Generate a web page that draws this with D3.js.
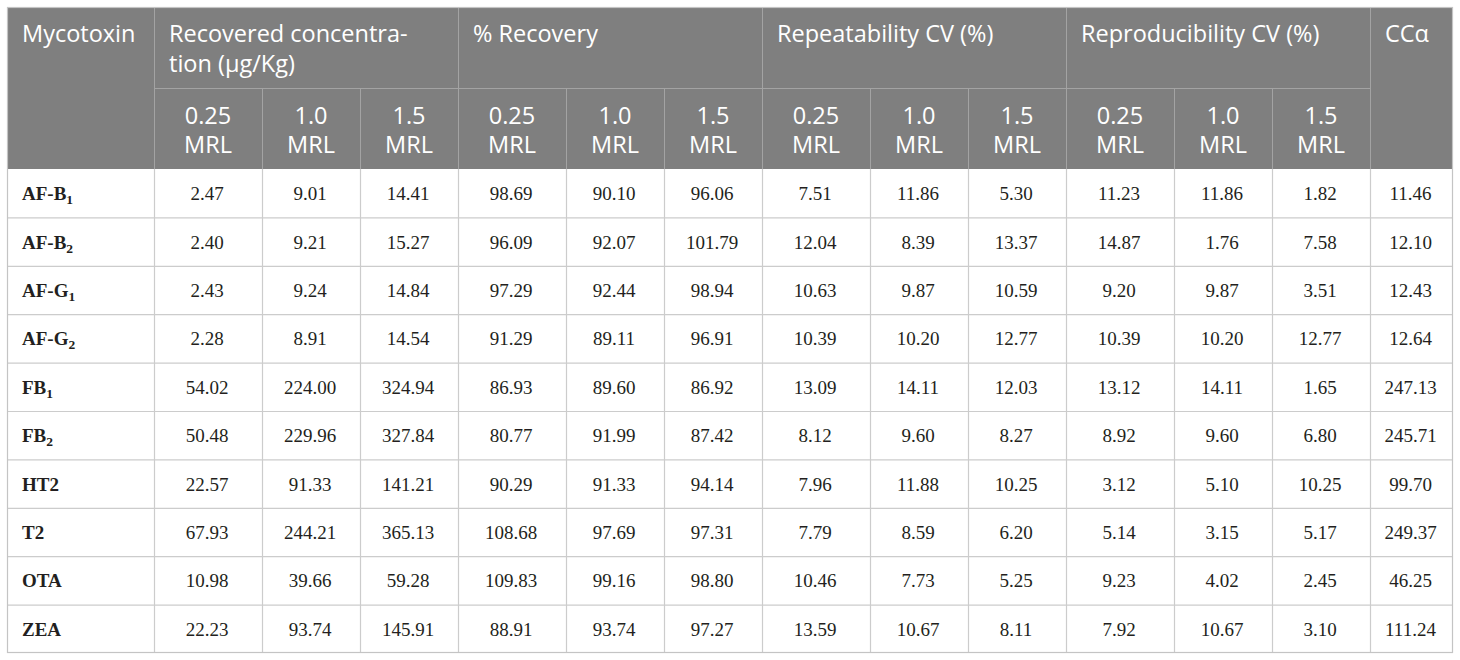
<!DOCTYPE html>
<html><head><meta charset="utf-8">
<script src="https://cdn.jsdelivr.net/npm/d3@7"></script>
<style>body{margin:0;background:#fff}svg{display:block}</style>
</head><body>
<svg id="chart" width="1460" height="660"></svg>
<script>
// ---- data ----
const toxinBase = ["AF-B","AF-B","AF-G","AF-G","FB","FB","HT2","T2","OTA","ZEA"];
const toxinSub  = ["1","2","1","2","1","2","","","",""];
const groupTitles = [["Recovered concentra-","tion (μg/Kg)"],["% Recovery"],["Repeatability CV (%)"],["Reproducibility CV (%)"]];
const levelLabels = [["0.25","MRL"],["1.0","MRL"],["1.5","MRL"]];
const firstHeader = "Mycotoxin";
const lastHeader = "CCα";
const recConc025 = [2.47,2.40,2.43,2.28,54.02,50.48,22.57,67.93,10.98,22.23];
const recConc10  = [9.01,9.21,9.24,8.91,224.00,229.96,91.33,244.21,39.66,93.74];
const recConc15  = [14.41,15.27,14.84,14.54,324.94,327.84,141.21,365.13,59.28,145.91];
const recov025   = [98.69,96.09,97.29,91.29,86.93,80.77,90.29,108.68,109.83,88.91];
const recov10    = [90.10,92.07,92.44,89.11,89.60,91.99,91.33,97.69,99.16,93.74];
const recov15    = [96.06,101.79,98.94,96.91,86.92,87.42,94.14,97.31,98.80,97.27];
const repeat025  = [7.51,12.04,10.63,10.39,13.09,8.12,7.96,7.79,10.46,13.59];
const repeat10   = [11.86,8.39,9.87,10.20,14.11,9.60,11.88,8.59,7.73,10.67];
const repeat15   = [5.30,13.37,10.59,12.77,12.03,8.27,10.25,6.20,5.25,8.11];
const repro025   = [11.23,14.87,9.20,10.39,13.12,8.92,3.12,5.14,9.23,7.92];
const repro10    = [11.86,1.76,9.87,10.20,14.11,9.60,5.10,3.15,4.02,10.67];
const repro15    = [1.82,7.58,3.51,12.77,1.65,6.80,10.25,5.17,2.45,3.10];
const ccAlpha    = [11.46,12.10,12.43,12.64,247.13,245.71,99.70,249.37,46.25,111.24];

const seriesCols = [recConc025,recConc10,recConc15,recov025,recov10,recov15,
                    repeat025,repeat10,repeat15,repro025,repro10,repro15,ccAlpha];

// ---- layout ----
const L = 7, R = 1453, T = 7, H1 = 88, H2 = 169, B = 653;
const firstW = 147;
const subW = [108, 98, 98];
const edges = [L, L + firstW];
for (let g = 0; g < 4; g++) for (let k = 0; k < 3; k++) edges.push(edges[edges.length-1] + subW[k]);
edges.push(R);
const nRows = toxinBase.length;
const y = d3.scaleBand().domain(d3.range(nRows)).range([H2, B]);

const svg = d3.select("#chart");
const headerFill = "#7f7f7f", headLine = "#a3a3a3", bodyLine = "#cccccc";
const sans = "'Open Sans', sans-serif", serif = "'Liberation Serif', 'Times New Roman', serif";

svg.append("rect").attr("x", L).attr("y", T).attr("width", R-L).attr("height", H2-T).attr("fill", headerFill);

const hl = svg.append("g").attr("stroke", headLine).attr("stroke-width", 1);
for (let i = 1; i < edges.length - 1; i++) {
  const isGroup = (i - 1) % 3 === 0;
  hl.append("line").attr("x1", edges[i]+0.5).attr("x2", edges[i]+0.5)
    .attr("y1", isGroup ? T : H1).attr("y2", H2);
}
hl.append("line").attr("x1", edges[1]).attr("x2", edges[13]).attr("y1", H1+0.5).attr("y2", H1+0.5);

const bl = svg.append("g").attr("stroke", bodyLine).attr("stroke-width", 1.2);
for (let i = 1; i < edges.length - 1; i++) {
  bl.append("line").attr("x1", edges[i]+0.5).attr("x2", edges[i]+0.5).attr("y1", H2).attr("y2", B);
}
d3.range(1, nRows).forEach(r => {
  bl.append("line").attr("x1", L).attr("x2", R).attr("y1", y(r)+0.5).attr("y2", y(r)+0.5);
});
svg.append("rect").attr("x", L+0.5).attr("y", T+0.5).attr("width", R-L-1).attr("height", B-T-1)
  .attr("fill", "none").attr("stroke", "#c4c4c4").attr("stroke-width", 1.2);

// header text
const ht = svg.append("g").attr("fill", "#fff").attr("font-family", sans).attr("font-size", 23.5);
ht.append("text").attr("x", L + 15).attr("y", 42).text(firstHeader);
groupTitles.forEach((lines, g) => {
  const x0 = edges[1 + g*3] + 15;
  lines.forEach((s, j) => ht.append("text").attr("x", x0).attr("y", 42 + j*30).text(s));
});
ht.append("text").attr("x", edges[13] + 15).attr("y", 42).text(lastHeader);
for (let g = 0; g < 4; g++) for (let k = 0; k < 3; k++) {
  const i = 1 + g*3 + k;
  const cx = (edges[i] + edges[i+1]) / 2;
  levelLabels[k].forEach((s, j) => ht.append("text").attr("x", cx).attr("y", 124 + j*29)
    .attr("text-anchor", "middle").text(s));
}

// body text
const bt = svg.append("g").attr("fill", "#231f20").attr("font-family", serif).attr("font-size", 19);
toxinBase.forEach((b, r) => {
  const t = bt.append("text").attr("x", L + 15).attr("y", y(r) + y.bandwidth()/2 + 7)
    .attr("font-weight", "bold").attr("font-size", 19);
  t.append("tspan").text(b);
  if (toxinSub[r]) t.append("tspan").attr("font-size", 13.5).attr("dy", 4).text(toxinSub[r]);
});
seriesCols.forEach((vals, c) => {
  const cx = (edges[c+1] + edges[c+2]) / 2 - 1;
  vals.forEach((v, r) => {
    bt.append("text").attr("x", cx).attr("y", y(r) + y.bandwidth()/2 + 7)
      .attr("text-anchor", "middle").text(v.toFixed(2));
  });
});
</script>
</body></html>
